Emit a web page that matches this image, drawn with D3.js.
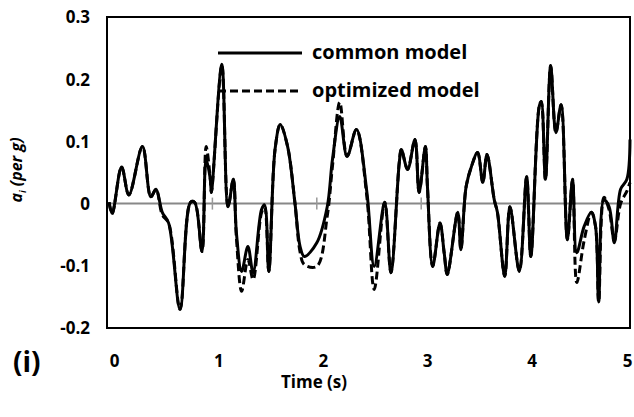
<!DOCTYPE html>
<html>
<head>
<meta charset="utf-8">
<script src="https://cdn.jsdelivr.net/npm/d3@7"></script>
<style>
  body { margin: 0; background: #fff; }
  text { font-family: "Open Sans", Lato, sans-serif; font-weight: bold; fill: #000; }
</style>
</head>
<body>
<div id="viz"></div>
<script>
// time (s)
var times = [0.01, 0.04, 0.13, 0.20, 0.33, 0.41, 0.46, 0.52, 0.58, 0.69,
             0.79, 0.83, 0.90, 0.94, 0.98, 0.99, 1.09, 1.15, 1.20, 1.23,
             1.28, 1.34, 1.39, 1.47, 1.50, 1.54, 1.60, 1.65, 1.72, 1.79,
             1.84, 1.88, 2.00, 2.10, 2.15, 2.22, 2.29, 2.38, 2.48, 2.55,
             2.65, 2.71, 2.79, 2.81, 2.87, 2.94, 2.98, 3.04, 3.06, 3.11,
             3.18, 3.22, 3.25, 3.35, 3.38, 3.43, 3.48, 3.54, 3.59, 3.63,
             3.70, 3.73, 3.80, 3.85, 3.94, 4.01, 4.05, 4.13, 4.15, 4.19,
             4.24, 4.29, 4.34, 4.40, 4.45, 4.49, 4.56, 4.63, 4.67, 4.70,
             4.75, 4.80, 4.85, 4.91, 4.97, 5.00];

var commonModel = [0.002, -0.016, 0.059, 0.014, 0.092, 0.011, 0.023, -0.014, -0.031, -0.170,
                   0.002, 0.002, -0.077, 0.071, 0.039, 0.018, 0.224, -0.005, 0.039, -0.047,
                   -0.109, -0.069, -0.111, -0.010, -0.002, -0.109, 0.087, 0.127, 0.092, 0.002,
                   -0.069, -0.085, -0.063, -0.005, 0.071, 0.140, 0.076, 0.119, 0.018, -0.101,
                   0.002, -0.111, 0.066, 0.087, 0.055, 0.103, 0.018, 0.092, 0.027, -0.101,
                   -0.031, -0.079, -0.114, -0.014, -0.074, 0.027, 0.059, 0.082, 0.034, 0.079,
                   0.006, -0.014, -0.117, -0.005, -0.109, 0.043, -0.085, 0.156, 0.164, 0.039,
                   0.222, 0.114, 0.159, -0.058, 0.039, -0.079, -0.037, -0.014, -0.037, -0.158,
                   0.006, -0.005, -0.063, 0.023, 0.039, 0.103];

var optimizedModel = [0.002, -0.016, 0.059, 0.014, 0.092, 0.011, 0.023, -0.018, -0.031, -0.170,
                      0.002, 0.002, -0.077, 0.092, 0.039, 0.018, 0.222, -0.005, 0.039, -0.055,
                      -0.141, -0.090, -0.122, -0.015, -0.005, -0.109, 0.087, 0.127, 0.092, 0.002,
                      -0.078, -0.098, -0.101, -0.020, 0.060, 0.163, 0.076, 0.119, 0.010, -0.138,
                      0.002, -0.111, 0.066, 0.087, 0.055, 0.103, 0.018, 0.092, 0.027, -0.101,
                      -0.031, -0.079, -0.114, -0.014, -0.074, 0.027, 0.059, 0.082, 0.034, 0.079,
                      0.006, -0.014, -0.117, -0.005, -0.109, 0.043, -0.085, 0.156, 0.164, 0.039,
                      0.222, 0.114, 0.159, -0.058, 0.039, -0.127, -0.060, -0.014, -0.037, -0.158,
                      0.010, -0.010, -0.060, 0.000, 0.020, 0.034];

var xTicks = [0, 1, 2, 3, 4, 5];
var yTicks = [-0.2, -0.1, 0, 0.1, 0.2, 0.3];
var seriesNames = ["common model", "optimized model"];

var w = 634, h = 417,
    plot = { left: 107, right: 630, top: 17, bottom: 328 };

var svg = d3.select("#viz")
    .append("svg")
    .attr("width", w)
    .attr("height", h);

svg.append("rect").attr("width", w).attr("height", h).attr("fill", "#fff");

var x = d3.scaleLinear().domain([0, 5]).range([plot.left + 1, plot.right]);
var y = d3.scaleLinear().domain([-0.2, 0.3]).range([plot.bottom, plot.top]);

/* zero line with little gray ticks */
svg.append("line")
    .attr("x1", plot.left).attr("x2", plot.right)
    .attr("y1", y(0)).attr("y2", y(0))
    .attr("stroke", "#888").attr("stroke-width", 2);

svg.selectAll(".zt").data(xTicks.slice(1, 5)).enter()
    .append("line")
    .attr("class", "zt")
    .attr("x1", function(d) { return x(d); })
    .attr("x2", function(d) { return x(d); })
    .attr("y1", y(0) - 6).attr("y2", y(0) + 6)
    .attr("stroke", "#999").attr("stroke-width", 1.5);

/* data lines */
var line = d3.line()
    .x(function(d, i) { return x(times[i]); })
    .y(function(d) { return y(d); })
    .curve(d3.curveCatmullRom.alpha(0.5));

svg.append("path")
    .datum(optimizedModel)
    .attr("d", line)
    .attr("fill", "none")
    .attr("stroke", "#000")
    .attr("stroke-width", 3)
    .attr("stroke-dasharray", "8,4");

svg.append("path")
    .datum(commonModel)
    .attr("d", line)
    .attr("fill", "none")
    .attr("stroke", "#000")
    .attr("stroke-width", 3);

/* frame */
svg.append("rect")
    .attr("x", plot.left).attr("y", plot.top)
    .attr("width", plot.right - plot.left)
    .attr("height", plot.bottom - plot.top)
    .attr("fill", "none")
    .attr("stroke", "#000")
    .attr("stroke-width", 2);

/* axes (labels only) */
var yAxis = d3.axisLeft(y).tickValues(yTicks).tickSize(0).tickPadding(0)
    .tickFormat(function(d) { return d === 0 ? "0" : d3.format(".1f")(d).replace("\u2212", "-"); });
var gy = svg.append("g")
    .attr("transform", "translate(90,0)")
    .call(yAxis);
gy.select(".domain").remove();
gy.selectAll("text").style("font-size", "17px").attr("dy", "0.35em");

var xAxis = d3.axisBottom(x).tickValues(xTicks).tickSize(0).tickPadding(0)
    .tickFormat(d3.format("d"));
var gx = svg.append("g")
    .attr("transform", "translate(6,355)")
    .call(xAxis);
gx.select(".domain").remove();
gx.selectAll("text").style("font-size", "17px")
    .filter(function(d) { return d === 5; })
    .attr("text-anchor", "end")
    .attr("x", -4);

svg.append("text")
    .attr("x", 314).attr("y", 388)
    .attr("text-anchor", "middle")
    .style("font-size", "17px")
    .text("Time (s)");

svg.append("text")
    .attr("x", 13).attr("y", 372)
    .style("font-size", "28px")
    .text("(i)");

var ylab = svg.append("text")
    .attr("transform", "translate(22,170) rotate(-90)")
    .attr("text-anchor", "middle")
    .style("font-size", "16px")
    .style("font-style", "italic");
ylab.append("tspan").text("a");
ylab.append("tspan").attr("dy", 4).style("font-size", "9px").text("i");
ylab.append("tspan").attr("dy", -4).text(" (per g)");

/* legend */
var legend = svg.selectAll(".legend").data(seriesNames).enter()
    .append("g")
    .attr("class", "legend")
    .attr("transform", function(d, i) { return "translate(218," + (53 + i * 38) + ")"; });

legend.append("line")
    .attr("x1", 0).attr("x2", 84)
    .attr("stroke", "#000")
    .attr("stroke-width", 3)
    .attr("stroke-dasharray", function(d, i) { return i ? "8,4" : null; });

legend.append("text")
    .attr("x", 94).attr("y", 0)
    .attr("dy", "0.32em")
    .style("font-size", "20px")
    .text(function(d) { return d; });
</script>
</body>
</html>
